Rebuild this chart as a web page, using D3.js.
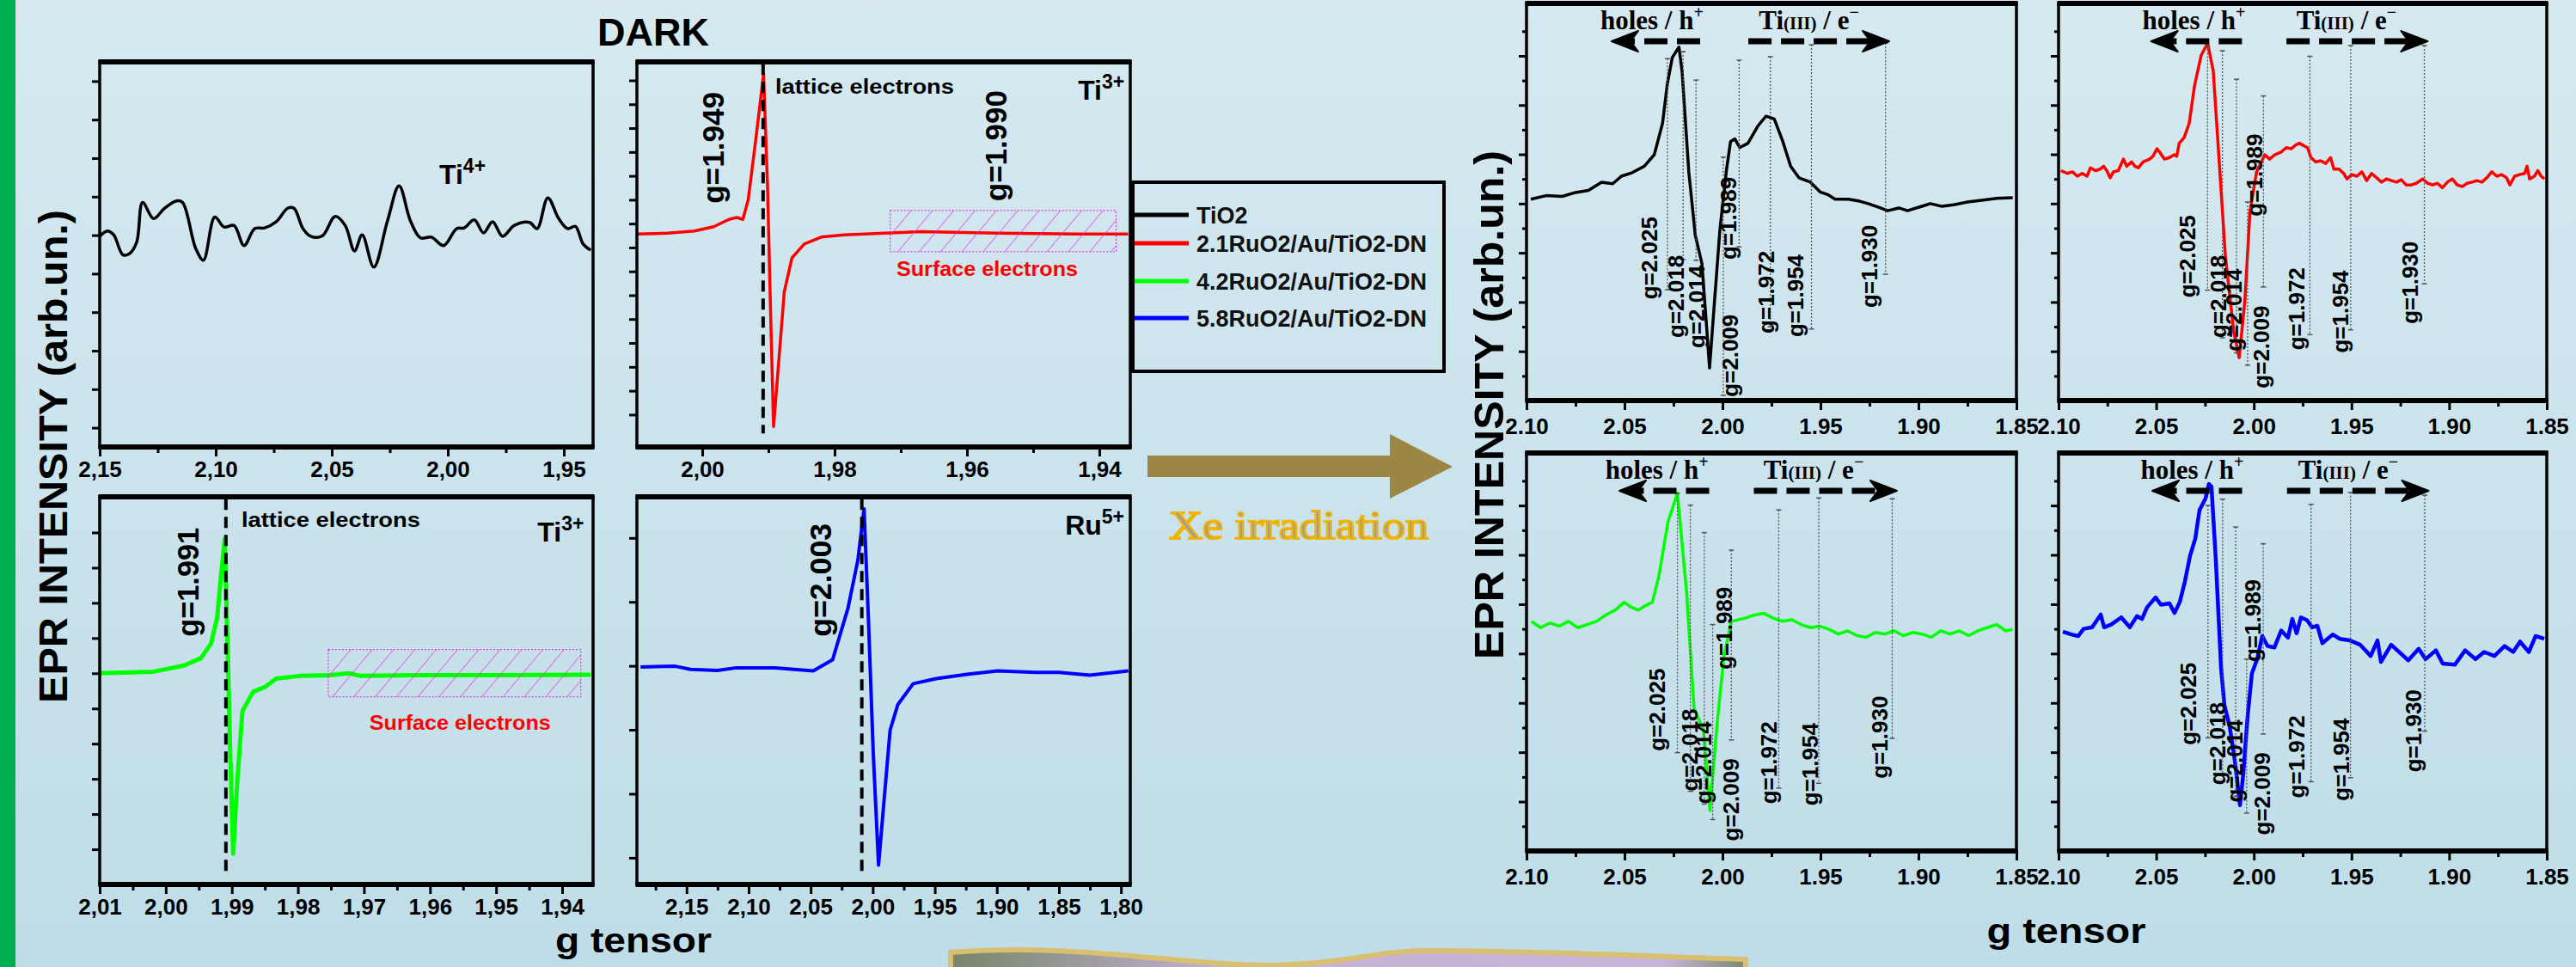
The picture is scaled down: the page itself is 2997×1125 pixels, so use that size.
<!DOCTYPE html>
<html lang="en">
<head>
<meta charset="UTF-8">
<title>EPR spectra - dark and Xe irradiation</title>
<script src="https://d3js.org/d3.v7.min.js"></script>
<style>
  body { margin: 0; overflow: hidden; }
  svg { display: block; font-family: "Liberation Sans", Arial, sans-serif; }
</style>
</head>
<body>
<script>
const W = 2997, H = 1125;

// ---------- data (g value, intensity in arb. units 0-100) ----------
// DARK
const darkTiO2G = [2.150,2.1467,2.144,2.140,2.1374,2.1341,2.1315,2.1268,2.1222,2.1169,2.1143,2.1086,2.1053,2.1004,2.0964,2.0921,2.0878,2.0832,2.0789,2.0739,2.0690,2.0663,2.0624,2.0591,2.0541,2.0485,2.0442,2.0402,2.0369,2.0319,2.0260,2.0210,2.0161,2.0118,2.0071,2.0018,1.9962,1.9929,1.9886,1.9846,1.9807,1.9764,1.9714,1.9648,1.9615,1.9569,1.9522,1.9483,1.9450,1.9417,1.9384];
const darkTiO2I = [54.7,56.1,55.1,49.9,50.1,53.1,63.5,59.3,61.9,63.9,63.5,51.5,48.5,59.7,57.1,57.5,52.3,56.7,56.9,58.5,62.0,62.0,56.7,54.7,54.8,59.9,57.5,50.9,55.1,46.7,58.7,67.8,58.7,54.3,54.5,52.3,56.7,56.9,59.0,55.6,58.5,54.7,57.5,58.3,56.7,64.7,59.3,56.7,57.3,52.7,51.1];

const dark21G = [2.00986,2.00522,2.00117,1.99826,1.99595,1.99479,1.99386,1.99305,1.99188,1.99073,1.99014,1.98969,1.98922,1.98852,1.98760,1.98644,1.98458,1.98203,1.97856,1.97160,1.96696,1.95536,1.94377,1.93565];
const dark21I = [55.3,55.5,56.1,57.2,59.1,59.6,59.1,64.2,80.2,96.9,68.3,36.4,5.3,20.4,40.3,49.1,52.7,54.5,55.1,55.6,55.9,55.5,55.3,55.3];

const dark42G = [2.0100,2.00186,1.99722,1.99467,1.99316,1.99223,1.99165,1.99107,1.99060,1.99025,1.98979,1.98921,1.98840,1.98678,1.98503,1.98329,1.97980,1.97516,1.97225,1.97052,1.96124,1.94961,1.93568];
const dark42I = [54.5,54.9,56.5,58.4,62.1,68.7,79.5,89.2,58.8,34.0,7.9,25.7,44.7,49.7,50.9,53.1,53.8,54.0,54.5,53.8,54.0,54.0,54.1];

const dark58G = [2.1871,2.1592,2.1468,2.1252,2.1097,2.0788,2.0479,2.0323,2.0200,2.0120,2.0070,2.0033,1.9996,1.9953,1.9909,1.9860,1.9798,1.9674,1.9488,1.9241,1.8993,1.8684,1.8499,1.8250,1.7941];
const dark58I = [56.1,56.3,55.5,55.2,55.9,55.9,55.1,58.0,71.2,83.6,96.9,67.1,34.0,5.0,21.6,39.8,46.4,51.8,53.1,54.2,55.1,54.7,54.7,54.0,55.1];

// XE IRRADIATION
const xeTiO2G = [2.0978,2.0900,2.0818,2.0750,2.0684,2.0617,2.0560,2.0516,2.0460,2.0399,2.0348,2.0306,2.0281,2.0256,2.0222,2.0206,2.0172,2.0139,2.0105,2.0080,2.0066,2.0046,2.0013,1.9979,1.9959,1.9937,1.9912,1.9870,1.9820,1.9778,1.9736,1.9694,1.9652,1.9610,1.9551,1.9501,1.9460,1.9425,1.9358,1.9300,1.9257,1.9200,1.9157,1.9100,1.9056,1.8990,1.8939,1.8880,1.8821,1.8750,1.8687,1.8600,1.8519];
const xeTiO2I = [50.7,51.6,51.4,52.4,52.9,55.0,54.6,56.5,57.4,59.0,61.9,69.8,79.9,86.4,89.0,82.8,57.6,41.7,34.5,17.9,8.2,21.5,43.1,58.3,65.2,65.9,63.7,64.8,69.1,71.6,70.9,65.5,59.0,56.1,55.0,52.5,51.8,50.7,50.7,50.2,49.6,48.6,47.8,48.5,47.8,48.8,49.6,48.9,49.3,50.0,50.4,50.9,51.1];

const xe21G = [2.0988,2.0955,2.0929,2.0904,2.0879,2.0854,2.0837,2.0811,2.0786,2.0769,2.0753,2.0736,2.0719,2.0694,2.0668,2.0651,2.0626,2.0609,2.0592,2.0567,2.0534,2.0517,2.0496,2.0483,2.0458,2.0432,2.0407,2.0395,2.0382,2.0357,2.0331,2.0304,2.0270,2.0237,2.0208,2.0175,2.0146,2.0103,2.0075,2.0046,2.0020,1.9986,1.9944,1.9919,1.9893,1.9860,1.9834,1.9809,1.9784,1.9767,1.9742,1.9725,1.9708,1.9683,1.9658,1.9632,1.9607,1.9590,1.9565,1.9540,1.9523,1.9498,1.9472,1.9447,1.9422,1.9397,1.9371,1.9346,1.9321,1.9295,1.9270,1.9245,1.9220,1.9194,1.9169,1.9135,1.9110,1.9085,1.9060,1.9034,1.9009,1.8984,1.8959,1.8933,1.8908,1.8883,1.8858,1.8832,1.8807,1.8782,1.8756,1.8731,1.8706,1.8689,1.8664,1.8639,1.8613,1.8601,1.8588,1.8563,1.8546,1.8529,1.8512];
const xe21I = [57.9,57.2,57.6,56.5,57.2,56.5,58.6,57.9,58.3,59.0,57.9,56.1,57.6,57.9,60.8,59.0,60.1,59.0,58.6,60.1,60.8,61.5,63.4,62.6,60.8,61.2,61.9,61.5,64.8,66.2,69.8,79.2,86.9,90.0,83.1,58.4,36.6,17.4,10.8,25.1,47.5,57.6,61.9,60.8,61.9,62.6,63.7,63.4,64.4,64.8,64.1,63.7,61.2,60.1,60.4,59.7,61.2,58.3,58.3,57.2,55.8,56.9,56.5,57.6,55.4,57.2,56.1,55.0,55.8,55.4,55.0,55.6,54.3,54.3,54.7,55.8,54.7,54.3,54.7,53.6,55.0,55.8,54.3,53.9,54.7,55.0,55.4,55.0,56.1,57.6,56.5,56.9,56.1,54.3,56.5,56.9,57.2,59.0,55.8,56.5,57.9,56.5,55.8];

const xe42G = [2.0975,2.0928,2.0881,2.0833,2.0786,2.0738,2.0691,2.0643,2.0596,2.0548,2.0501,2.0468,2.0429,2.0392,2.0358,2.0325,2.0278,2.0230,2.0183,2.0145,2.0097,2.0064,2.0026,1.9993,1.9955,1.9884,1.9836,1.9789,1.9741,1.9694,1.9646,1.9599,1.9551,1.9504,1.9457,1.9409,1.9361,1.9314,1.9267,1.9219,1.9171,1.9124,1.9077,1.9029,1.8982,1.8934,1.8887,1.8839,1.8792,1.8744,1.8697,1.8650,1.8602,1.8555,1.8521];
const xe42I = [57.7,56.1,57.3,56.5,57.7,56.1,56.9,57.7,59.3,60.5,62.5,61.3,60.5,61.7,62.5,69.0,82.7,89.9,64.9,35.9,30.3,10.2,32.7,48.8,57.7,58.5,59.3,59.7,58.5,57.7,58.1,56.9,56.1,56.5,55.7,54.5,55.3,54.1,53.7,54.9,54.5,55.3,54.1,54.9,54.5,53.7,55.3,54.5,55.3,54.1,55.3,56.1,56.9,55.3,55.7];

const xe58G = [2.0978,2.0934,2.0899,2.0872,2.0828,2.0784,2.0767,2.0731,2.0679,2.0635,2.0599,2.0573,2.0547,2.0503,2.0476,2.0432,2.0406,2.0379,2.0353,2.0327,2.0300,2.0278,2.0247,2.0230,2.0217,2.0195,2.0168,2.0151,2.0124,2.0098,2.0071,2.0054,2.0032,2.0010,1.9983,1.9957,1.9930,1.9895,1.9860,1.9825,1.9803,1.9781,1.9759,1.9728,1.9702,1.9675,1.9649,1.9596,1.9561,1.9508,1.9455,1.9402,1.9367,1.9349,1.9297,1.9209,1.9156,1.9121,1.9068,1.9033,1.8971,1.8918,1.8865,1.8821,1.8768,1.8716,1.8672,1.8637,1.8592,1.8557,1.8513];
const xe58I = [55.1,54.4,54.0,55.8,56.2,59.4,56.2,56.9,58.7,56.2,59.0,58.3,61.2,63.7,61.9,62.2,59.8,62.6,67.7,74.1,78.5,85.7,88.6,92.2,91.5,73.4,46.1,36.7,31.3,23.0,11.5,19.4,33.8,44.6,48.2,54.0,51.5,51.1,55.4,53.6,58.3,54.7,58.7,58.0,56.2,56.6,52.2,54.4,53.3,52.9,51.8,49.0,52.9,47.5,51.8,47.9,50.8,48.2,50.4,47.1,46.8,50.4,48.2,50.0,49.0,51.5,50.0,52.6,50.0,54.0,53.3];

// legend
const seriesNames = ["TiO2", "2.1RuO2/Au/TiO2-DN", "4.2RuO2/Au/TiO2-DN", "5.8RuO2/Au/TiO2-DN"];
const seriesColors = ["#000000", "#ff0000", "#00ff00", "#0000ff"];

// x tick values
const ticksDarkA = [2.15, 2.10, 2.05, 2.00, 1.95];
const ticksDarkB = [2.00, 1.98, 1.96, 1.94];
const ticksDarkC = [2.01, 2.00, 1.99, 1.98, 1.97, 1.96, 1.95, 1.94];
const ticksDarkD = [2.15, 2.10, 2.05, 2.00, 1.95, 1.90, 1.85, 1.80];
const ticksXe = [2.10, 2.05, 2.00, 1.95, 1.90, 1.85];

// dark-panel peak markers (g of dashed line) and labels
const darkMarkerG = [null, 1.9908, 1.9909, 2.0088];
const darkMarkerText = [null, "g=1.949", "g=1.991", "g=2.003"];

// g-value annotations of the irradiated spectra: [line g, line top, line bottom, label g, label bottom]
const markLabels = ["g=2.025", "g=2.018", "g=2.014", "g=1.989", "g=2.009", "g=1.972", "g=1.954", "g=1.930"];
const marksTiO2 = [[2.0281,86.1,27.9,2.0373,25.5],[2.0201,87.9,35.5,2.0239,15.8],[2.0135,80.7,35.3,2.0130,13.2],[1.9915,85.7,38.7,1.9971,35.5],[1.9996,61.3,1.3,1.9962,0.9],[1.9756,86.6,18.6,1.9778,16.9],[1.9546,89.6,18.0,1.9627,16.0],[1.9168,90.0,31.8,1.9249,23.4]];
const marks21 = [[2.0237,89.3,27.8,2.0342,25.9],[2.0161,88.1,15.8,2.0184,15.8],[2.0089,80.9,12.0,2.0103,12.4],[1.9951,76.7,28.6,1.9999,46.4],[2.0032,50.0,8.9,1.9960,3.1],[1.9713,86.7,16.6,1.9780,12.7],[1.9504,89.4,17.8,1.9556,12.0],[1.9127,89.4,29.4,1.9199,19.3]];
const marks42 = [[2.0230,89.9,24.7,2.0335,25.1],[2.0164,86.9,15.0,2.0168,15.0],[2.0093,80.0,11.8,2.0097,11.8],[1.9955,75.6,27.9,1.9993,45.6],[2.0050,56.9,7.9,1.9955,2.5],[1.9713,85.7,15.8,1.9765,11.8],[1.9509,88.7,17.0,1.9551,11.4],[1.9134,88.5,28.3,1.9196,18.2]];
const marks58 = [[2.0235,86.8,28.4,2.0336,26.6],[2.0160,88.4,19.4,2.0186,16.6],[2.0093,81.4,13.7,2.0098,12.2],[1.9952,77.2,29.4,2.0005,47.5],[2.0037,48.2,9.5,1.9957,4.0],[1.9707,87.1,17.4,1.9781,13.3],[1.9505,90.1,18.4,1.9552,12.6],[1.9125,89.4,30.1,1.9183,19.8]];
// holes / Ti(III) arrows: [left tip, left start, right start, right tip, holes text g, Ti text g]
const arrowsTiO2 = [2.0566, 2.0114, 1.9868, 1.9149, 2.0360, 1.9559];
const arrows21 = [2.0526, 2.0061, 1.9833, 1.9110, 2.0307, 1.9526];
const arrows42 = [2.0526, 2.0068, 1.9840, 1.9110, 2.0335, 1.9535];
const arrows58 = [2.0520, 2.0060, 1.9830, 1.9105, 2.0316, 1.9517];

// ---------- drawing ----------
const svg = d3.select("body").append("svg").attr("width", W).attr("height", H);
const defs = svg.append("defs");

const bg = defs.append("linearGradient").attr("id", "bg").attr("x1", 0).attr("y1", 0).attr("x2", 0).attr("y2", 1);
bg.append("stop").attr("offset", "0%").attr("stop-color", "#d6e9f0");
bg.append("stop").attr("offset", "100%").attr("stop-color", "#bfdde8");

const hatch = defs.append("pattern").attr("id", "hatch").attr("patternUnits", "userSpaceOnUse")
  .attr("width", 19).attr("height", 19).attr("patternTransform", "rotate(40)");
hatch.append("line").attr("x1", 0).attr("y1", 0).attr("x2", 0).attr("y2", 19)
  .attr("stroke", "#e03ce0").attr("stroke-width", 1.4);

const band = defs.append("linearGradient").attr("id", "band").attr("x1", 0).attr("y1", 0).attr("x2", 1).attr("y2", 0);
band.append("stop").attr("offset", "0%").attr("stop-color", "#76866a");
band.append("stop").attr("offset", "35%").attr("stop-color", "#c7b2d6");
band.append("stop").attr("offset", "90%").attr("stop-color", "#c8b3d8");
band.append("stop").attr("offset", "100%").attr("stop-color", "#7d8a6d");

svg.append("rect").attr("width", W).attr("height", H).attr("fill", "url(#bg)");
svg.append("rect").attr("width", 18).attr("height", H).attr("fill", "#00b04f");

const commaFmt = d => d3.format(".2f")(d).replace(".", ",");
const dotFmt = d3.format(".2f");

function steps(a, b, s) {
  const n = Math.round((a - b) / s);
  return d3.range(n + 1).map(i => +(a - i * s).toFixed(4));
}

function panel(p) {
  const x = d3.scaleLinear().domain(p.dom).range([p.x0, p.x1]);
  const y = d3.scaleLinear().domain([0, 100]).range([p.y1, p.y0]);
  const g = svg.append("g");

  const styleAxis = a => {
    a.select(".domain").remove();
    a.selectAll("line").attr("stroke", "#000").attr("stroke-width", 3);
    a.selectAll("text").attr("fill", "#000").attr("font-size", 26).attr("font-weight", "bold")
      .attr("font-family", "Liberation Sans, Arial, sans-serif");
  };

  g.append("g").attr("transform", `translate(0,${p.y1})`)
    .call(d3.axisBottom(x).tickValues(p.minor).tickSize(7).tickFormat(""))
    .call(styleAxis);
  g.append("g").attr("transform", `translate(0,${p.y1})`)
    .call(d3.axisBottom(x).tickValues(p.major).tickSize(11).tickPadding(p.pad).tickFormat(p.fmt))
    .call(styleAxis);
  g.append("g").attr("transform", `translate(${p.x0},0)`)
    .call(d3.axisLeft(y).tickValues(p.yMajor).tickSize(9).tickFormat(""))
    .call(styleAxis);
  if (p.yMinor) {
    g.append("g").attr("transform", `translate(${p.x0},0)`)
      .call(d3.axisLeft(y).tickValues(p.yMinor).tickSize(5).tickFormat(""))
      .call(styleAxis);
  }

  const n = Math.min(p.gs.length, p.vs.length);
  g.append("path").datum(d3.range(n))
    .attr("fill", "none").attr("stroke", p.color).attr("stroke-width", p.lw)
    .attr("stroke-linejoin", "round")
    .attr("d", d3.line().x(i => x(p.gs[i])).y(i => y(p.vs[i])).curve(p.curve || d3.curveLinear));

  g.append("rect").attr("x", p.x0).attr("y", p.y0).attr("width", p.x1 - p.x0).attr("height", p.y1 - p.y0)
    .attr("fill", "none").attr("stroke", "#000").attr("stroke-width", 3.5);
  [p.y0, p.y1].forEach(yy => g.append("line").attr("x1", p.x0 - 1.5).attr("x2", p.x1 + 1.5)
    .attr("y1", yy).attr("y2", yy).attr("stroke", "#000").attr("stroke-width", 6));
  return { x, y, g };
}

function ionLabel(g, xx, yy, base, sup, anchor) {
  const t = g.append("text").attr("x", xx).attr("y", yy).attr("text-anchor", anchor || "start")
    .attr("font-size", 32).attr("font-weight", "bold").attr("fill", "#000");
  t.append("tspan").text(base);
  t.append("tspan").attr("font-size", 23).attr("dy", -13).text(sup);
}

function vText(g, cx, by, txt, size, len) {
  const t = g.append("text").attr("transform", `translate(${cx},${by}) rotate(-90)`)
    .attr("dy", "0.35em").attr("font-size", size).attr("font-weight", "bold").attr("fill", "#000").text(txt);
  if (len) t.attr("textLength", len).attr("lengthAdjust", "spacingAndGlyphs");
  return t;
}

function hatchBox(P, g0, g1, v0, v1) {
  P.g.append("rect").attr("x", P.x(g0)).attr("y", P.y(v0)).attr("width", P.x(g1) - P.x(g0)).attr("height", P.y(v1) - P.y(v0))
    .attr("fill", "url(#hatch)").attr("stroke", "#e03ce0").attr("stroke-width", 1.3).attr("stroke-dasharray", "2,2");
}

// ----- dark panels -----
const darkCurve = d3.curveCatmullRom.alpha(0.5);
const pA = panel({ x0: 116, x1: 690, y0: 72, y1: 520, dom: [2.15, 1.9374], major: ticksDarkA, minor: steps(2.125, 1.975, 0.05),
  fmt: commaFmt, pad: 6, yMajor: steps(95, 5, 10), gs: darkTiO2G, vs: darkTiO2I, color: seriesColors[0], lw: 3.5, curve: darkCurve });
const pB = panel({ x0: 741, x1: 1315, y0: 72, y1: 520, dom: [2.00987, 1.93532], major: ticksDarkB, minor: [1.99, 1.97, 1.95],
  fmt: commaFmt, pad: 6, yMajor: steps(95.2, 8.4, 6.2), gs: dark21G, vs: dark21I, color: seriesColors[1], lw: 3.5 });
const pC = panel({ x0: 116, x1: 690, y0: 578, y1: 1029, dom: [2.01, 1.93532], major: ticksDarkC, minor: steps(2.005, 1.945, 0.01),
  fmt: commaFmt, pad: 6, yMajor: steps(90.8, 9.08, 9.08), gs: dark42G, vs: dark42I, color: seriesColors[2], lw: 5 });
const pD = panel({ x0: 741, x1: 1315, y0: 578, y1: 1029, dom: [2.19, 1.7925], major: ticksDarkD, minor: steps(2.175, 1.825, 0.05),
  fmt: commaFmt, pad: 6, yMajor: steps(89.4, 6.9, 16.5), gs: dark58G, vs: dark58I, color: seriesColors[3], lw: 4 });

[pB, pC, pD].forEach((P, k) => {
  const gx = P.x(darkMarkerG[k + 1]);
  P.g.append("line").attr("x1", gx).attr("x2", gx).attr("y1", P.y(99.5)).attr("y2", P.y(3.5))
    .attr("stroke", "#000").attr("stroke-width", 4).attr("stroke-dasharray", "13,8");
});

ionLabel(pA.g, pA.x(2.0037), pA.y(68.3), "Ti", "4+");
ionLabel(pB.g, pB.x(1.9362), pB.y(90.2), "Ti", "3+", "end");
ionLabel(pC.g, pC.x(1.9367), pC.y(88.5), "Ti", "3+", "end");
ionLabel(pD.g, pD.x(1.7973), pD.y(90.2), "Ru", "5+", "end");

hatchBox(pB, 1.97159, 1.93745, 61.4, 50.7);
hatchBox(pC, 1.97541, 1.93718, 60.6, 48.4);

[[pB, 1.98896, 91.7], [pC, 1.98854, 92.2]].forEach(([P, gg, vv]) =>
  P.g.append("text").attr("x", P.x(gg)).attr("y", P.y(vv)).attr("font-size", 24).attr("font-weight", "bold")
    .attr("textLength", 208).attr("lengthAdjust", "spacingAndGlyphs").text("lattice electrons"));
[[pB, 1.97065, 44.4], [pC, 1.96917, 39.9]].forEach(([P, gg, vv]) =>
  P.g.append("text").attr("x", P.x(gg)).attr("y", P.y(vv)).attr("font-size", 24).attr("font-weight", "bold")
    .attr("fill", "#ff0000").attr("textLength", 211).attr("lengthAdjust", "spacingAndGlyphs").text("Surface electrons"));

vText(pB.g, pB.x(1.99831), pB.y(63.2), darkMarkerText[1], 35, 130);
vText(pB.g, pB.x(1.95558), pB.y(63.8), "g=1.990", 35, 129);
vText(pC.g, pC.x(1.99661), pC.y(63.9), darkMarkerText[2], 35, 127);
vText(pD.g, pD.x(2.0419), pD.y(63.9), darkMarkerText[3], 35, 132);

// titles and axis labels of the dark block
svg.append("text").attr("x", 760).attr("y", 53).attr("text-anchor", "middle")
  .attr("font-size", 45).attr("font-weight", "bold").text("DARK");
svg.append("text").attr("transform", "translate(78,531) rotate(-90)").attr("text-anchor", "middle")
  .attr("font-size", 47).attr("font-weight", "bold").attr("textLength", 574).attr("lengthAdjust", "spacingAndGlyphs")
  .text("EPR INTENSITY  (arb.un.)");
svg.append("text").attr("x", 737).attr("y", 1108).attr("text-anchor", "middle")
  .attr("font-size", 40).attr("font-weight", "bold").attr("textLength", 182).attr("lengthAdjust", "spacingAndGlyphs")
  .text("g tensor");

// legend
const lg = svg.append("g");
lg.append("rect").attr("x", 1318).attr("y", 212).attr("width", 362).attr("height", 220)
  .attr("fill", "none").attr("stroke", "#000").attr("stroke-width", 4);
const legendYs = [250, 283, 327, 370];
seriesNames.forEach((name, i) => {
  lg.append("line").attr("x1", 1320).attr("x2", 1383).attr("y1", legendYs[i]).attr("y2", legendYs[i])
    .attr("stroke", seriesColors[i]).attr("stroke-width", 5);
  lg.append("text").attr("x", 1392).attr("y", legendYs[i] + 10).attr("font-size", 27).attr("font-weight", "bold")
    .attr("fill", "#111").text(name);
});

// big arrow + Xe irradiation
svg.append("path").attr("d", "M1335,530 L1617,530 L1617,505 L1690,543 L1617,580 L1617,555 L1335,555 Z").attr("fill", "#9b8644");
svg.append("text").attr("x", 1360).attr("y", 627).attr("font-family", "Liberation Serif, Times New Roman, serif")
  .attr("font-size", 46).attr("fill", "#8e99bf").attr("stroke", "#f3b400").attr("stroke-width", 2.2)
  .attr("textLength", 302).attr("lengthAdjust", "spacingAndGlyphs").text("Xe irradiation");

// ----- irradiated panels -----
const xeCommon = { dom: [2.10, 1.85], major: ticksXe, minor: steps(2.075, 1.875, 0.05), fmt: dotFmt, pad: 10,
  yMajor: steps(86.8, 12.4, 12.4), yMinor: steps(93.0, 6.2, 12.4) };
const pE = panel(Object.assign({ x0: 1776, x1: 2346, y0: 4, y1: 466, gs: xeTiO2G, vs: xeTiO2I, color: seriesColors[0], lw: 3.5 }, xeCommon));
const pF = panel(Object.assign({ x0: 2395, x1: 2963, y0: 4, y1: 466, gs: xe21G, vs: xe21I, color: seriesColors[1], lw: 3.5 }, xeCommon));
const pG = panel(Object.assign({ x0: 1776, x1: 2346, y0: 527, y1: 990, gs: xe42G, vs: xe42I, color: seriesColors[2], lw: 3.5 }, xeCommon));
const pH = panel(Object.assign({ x0: 2395, x1: 2963, y0: 527, y1: 990, gs: xe58G, vs: xe58I, color: seriesColors[3], lw: 4.5 }, xeCommon));

function dashedArrow(g, xa, xb, yy) {
  const dir = Math.sign(xb - xa);
  g.append("line").attr("x1", xa).attr("x2", xb - dir * 22).attr("y1", yy).attr("y2", yy)
    .attr("stroke", "#000").attr("stroke-width", 7).attr("stroke-dasharray", "27,11");
  g.append("path").attr("d", `M${xb},${yy} L${xb - dir * 31},${yy - 12} L${xb - dir * 22},${yy} L${xb - dir * 31},${yy + 12} Z`)
    .attr("fill", "#000").attr("stroke", "#000").attr("stroke-width", 2).attr("stroke-linejoin", "round");
}

function xeAnnotations(P, marks, arr, y0) {
  const g = P.g;
  marks.forEach(m => {
    const lx = P.x(m[0]);
    g.append("line").attr("x1", lx).attr("x2", lx).attr("y1", P.y(m[1])).attr("y2", P.y(m[2]))
      .attr("stroke", "#555").attr("stroke-width", 1.3).attr("stroke-dasharray", "2,2");
    [m[1], m[2]].forEach(v => g.append("line").attr("x1", lx - 3).attr("x2", lx + 3).attr("y1", P.y(v)).attr("y2", P.y(v))
      .attr("stroke", "#555").attr("stroke-width", 1.5));
  });
  marks.forEach((m, i) => {
    g.append("text").attr("transform", `translate(${P.x(m[3])},${P.y(m[4])}) rotate(-90)`)
      .attr("dy", "0.35em").attr("font-size", 26).attr("font-weight", "bold").attr("fill", "#000").text(markLabels[i]);
  });
  const ay = y0 + 44, ty = y0 + 30;
  dashedArrow(g, P.x(arr[1]), P.x(arr[0]), ay);
  dashedArrow(g, P.x(arr[2]), P.x(arr[3]), ay);
  const serif = "Liberation Serif, Times New Roman, serif";
  const h = g.append("text").attr("x", P.x(arr[4])).attr("y", ty).attr("text-anchor", "middle")
    .attr("font-family", serif).attr("font-weight", "bold").attr("font-size", 31);
  h.append("tspan").text("holes / h");
  h.append("tspan").attr("font-size", 20).attr("dy", -13).text("+");
  const t = g.append("text").attr("x", P.x(arr[5])).attr("y", ty).attr("text-anchor", "middle")
    .attr("font-family", serif).attr("font-weight", "bold").attr("font-size", 31);
  t.append("tspan").text("Ti");
  t.append("tspan").attr("font-size", 21).text("(III)");
  t.append("tspan").text(" / e");
  t.append("tspan").attr("font-size", 20).attr("dy", -13).text("\u2212");
}

xeAnnotations(pE, marksTiO2, arrowsTiO2, 4);
xeAnnotations(pF, marks21, arrows21, 4);
xeAnnotations(pG, marks42, arrows42, 527);
xeAnnotations(pH, marks58, arrows58, 527);

svg.append("text").attr("transform", "translate(1749,471) rotate(-90)").attr("text-anchor", "middle")
  .attr("font-size", 49).attr("font-weight", "bold").attr("textLength", 592).attr("lengthAdjust", "spacingAndGlyphs")
  .text("EPR INTENSITY  (arb.un.)");
svg.append("text").attr("x", 2404).attr("y", 1097).attr("text-anchor", "middle")
  .attr("font-size", 40).attr("font-weight", "bold").attr("textLength", 185).attr("lengthAdjust", "spacingAndGlyphs")
  .text("g tensor");

// decorative banner at the bottom edge
svg.append("path")
  .attr("d", "M1106,1108 C1250,1096 1380,1124 1480,1123 C1570,1121 1600,1106 1660,1106 C1780,1106 1900,1112 2031,1116 L2031,1130 L1106,1130 Z")
  .attr("fill", "url(#band)").attr("stroke", "#d9c070").attr("stroke-width", 6);
</script>
</body>
</html>
